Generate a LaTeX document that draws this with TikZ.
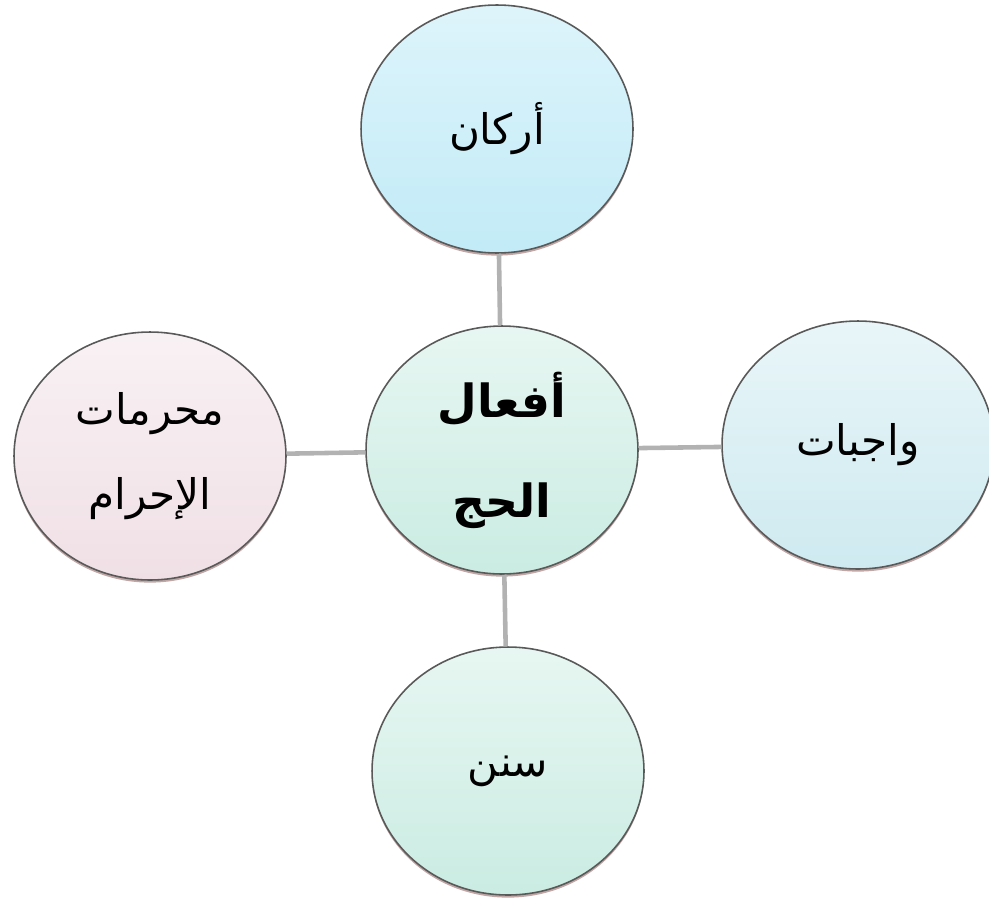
\documentclass[tikz,border=0pt]{standalone}
\usepackage{fontspec}
\newfontfamily\arabicfont[Script=Arabic]{DejaVu Sans}
\TeXXeTstate=1
\usepackage{tikz}
\usetikzlibrary{shapes.geometric,shadows}
\definecolor{skyfill}{RGB}{194,235,247}
\definecolor{mintfill}{RGB}{202,236,226}
\definecolor{icefill}{RGB}{206,234,240}
\definecolor{rosefill}{RGB}{240,224,230}
\begin{document}
\begin{tikzpicture}[x=0.02cm,y=-0.02cm,
		topic/.style={ellipse,draw=black!65,line width=0.9pt,minimum width=5.44cm,minimum height=4.96cm,
			inner sep=0pt,align=center,font=\arabicfont\fontsize{24}{48}\selectfont,
			drop shadow={shadow xshift=0pt,shadow yshift=-1.5pt,opacity=0.35,fill=black!70!red}},
		link/.style={draw=black!30,line width=2.6pt}]
		\useasboundingbox (0,0) rectangle (989,906);
		% the five circles
		\node[topic,font=\arabicfont\bfseries\fontsize{26}{57}\selectfont,top color=mintfill!45,bottom color=mintfill] (hajj) at (502,450)
			{\beginR أفعال\endR\\ \beginR الحج\endR};
		\node[topic,top color=skyfill!55,bottom color=skyfill] (arkan) at (497,129) {\beginR أركان\endR};
		\node[topic,top color=icefill!45,bottom color=icefill] (wajibat) at (858,445) {\beginR واجبات\endR};
		\node[topic,top color=rosefill!45,bottom color=rosefill] (muharramat) at (150,456)
			{\beginR محرمات\endR\\ \beginR الإحرام\endR};
		\node[topic,top color=mintfill!45,bottom color=mintfill] (sunan) at (508,771) {\beginR سنن\endR};
		% connectors
		\draw[link] (hajj) -- (arkan);
		\draw[link] (hajj) -- (wajibat);
		\draw[link] (hajj) -- (muharramat);
		\draw[link] (hajj) -- (sunan);
	\end{tikzpicture}
\end{document}
